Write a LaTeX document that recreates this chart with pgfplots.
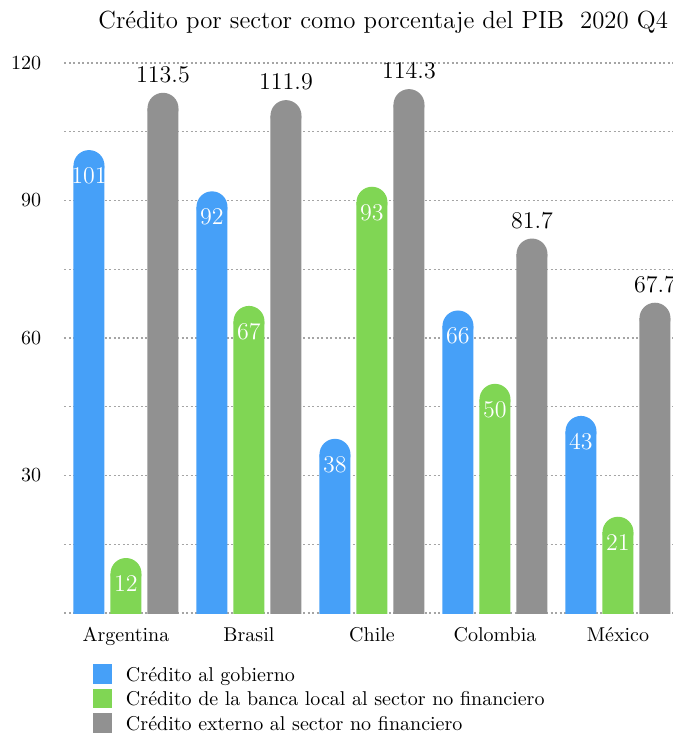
\documentclass[border=0pt]{standalone}
\usepackage{pgfplots}
\usepackage{pgfplotstable}
\pgfplotsset{compat=1.18}
\definecolor{cblue}{RGB}{70,160,248}
\definecolor{cgreen}{RGB}{128,214,84}
\definecolor{cgray}{RGB}{145,145,145}
\definecolor{cgrid}{RGB}{165,165,165}
\pgfplotstableread{
x gov bank ext
0 101 12 113.5
1 92 67 111.9
2 38 93 114.3
3 66 50 81.7
4 43 21 67.7
}\datatable
\tikzset{
  inlab/.style={anchor=north, yshift=-8.75pt, inner sep=0pt, text=white, font=\fontsize{12.4}{14}\selectfont},
  outlab/.style={anchor=south, yshift=5pt, inner sep=0pt, text=black, font=\fontsize{12.4}{14}\selectfont},
  cap/.style={circle, fill=#1, minimum size=15.5pt, inner sep=0pt, outer sep=0pt, anchor=center},
}
\begin{document}
\begin{tikzpicture}
\begin{axis}[
  scale only axis, width=307.5pt, height=275pt,
  xmin=-0.5, xmax=4.5, ymin=0, ymax=120,
  ybar, bar width=15.5pt,
  xtick={0,1,2,3,4},
  xticklabels={Argentina,Brasil,Chile,Colombia,México},
  ytick={30,60,90,120}, minor ytick={0,15,45,75,105},
  ymajorgrids, yminorgrids,
  major grid style={cgrid, line width=0.55pt, dash pattern=on 1pt off 1.25pt},
  minor grid style={cgrid, line width=0.55pt, dash pattern=on 1pt off 1.25pt},
  axis line style={draw=none},
  major tick length=0pt, minor tick length=0pt,
  tick style={draw=none},
  tick label style={font=\fontsize{10}{12}\selectfont},
  xticklabel style={anchor=base, yshift=-14.35pt, inner sep=0pt},
  yticklabel style={anchor=east, inner sep=0pt, xshift=-11.5pt},
  title={Crédito por sector como porcentaje del PIB\ \ 2020 Q4},
  title style={at={(0.5,1)}, anchor=base, yshift=11.2pt, xshift=5.6pt, inner sep=0pt, font=\fontsize{12.4}{14}\selectfont},
  legend style={at={(0,0)}, anchor=north west, xshift=14.4pt, yshift=-25.65pt,
    draw=none, fill=none, inner sep=0pt, outer sep=0pt, row sep=2.55pt,
    font=\fontsize{10}{12}\selectfont,
    nodes={inner sep=0pt, text height=8.35pt, text depth=1.35pt},
    /tikz/every odd column/.append style={column sep=6.85pt}},
  legend cell align=left,
  legend image code/.code={\fill[#1, sharp corners] (0pt,-4.85pt) rectangle (9.5pt,4.85pt);},
]
% bars: body shifted down by the cap radius, cap = disc on top
\addplot[fill=cblue, draw=none, bar shift=-18.5pt, yshift=-7.75pt, forget plot,
  nodes near coords={}, every node near coord/.append style={cap=cblue}] table[x=x, y=gov]{\datatable};
\addplot[fill=none, draw=none, bar shift=-18.5pt, forget plot,
  nodes near coords, every node near coord/.append style={inlab}] table[x=x, y=gov]{\datatable};
\addplot[fill=cgreen, draw=none, bar shift=0pt, yshift=-7.75pt, forget plot,
  nodes near coords={}, every node near coord/.append style={cap=cgreen}] table[x=x, y=bank]{\datatable};
\addplot[fill=none, draw=none, bar shift=0pt, forget plot,
  nodes near coords, every node near coord/.append style={inlab}] table[x=x, y=bank]{\datatable};
\addplot[fill=cgray, draw=none, bar shift=18.5pt, yshift=-7.75pt, forget plot,
  nodes near coords={}, every node near coord/.append style={cap=cgray}] table[x=x, y=ext]{\datatable};
\addplot[fill=none, draw=none, bar shift=18.5pt, forget plot,
  nodes near coords, every node near coord/.append style={outlab}] table[x=x, y=ext]{\datatable};
\addlegendimage{fill=cblue, draw=none}
\addlegendentry{Crédito al gobierno}
\addlegendimage{fill=cgreen, draw=none}
\addlegendentry{Crédito de la banca local al sector no financiero}
\addlegendimage{fill=cgray, draw=none}
\addlegendentry{Crédito externo al sector no financiero}
\end{axis}
\pgfresetboundingbox
\path[use as bounding box] ([xshift=-32.25pt,yshift=-60.5pt]current axis.south west) rectangle ([xshift=-3.25pt,yshift=31.5pt]current axis.north east);
\end{tikzpicture}
\end{document}
